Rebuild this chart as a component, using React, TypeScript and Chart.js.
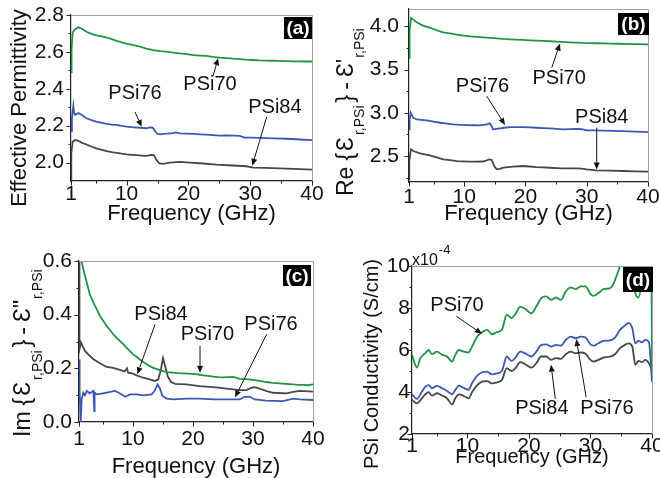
import React, { useEffect, useRef } from 'react';
import { Chart, registerables } from 'chart.js';

Chart.register(...registerables);

const FONT = "'Liberation Sans', Arial, Helvetica, sans-serif";
const GREEN = '#1f9647';
const BLUE = '#3a58b4';
const GRAY = '#474747';
const INK = '#111111';

// ---------- shared axis ticks ----------
const X_TICKS = [1, 10, 20, 30, 40];
const X_MINOR = [5, 15, 25, 35];
const X_TITLE = 'Frequency (GHz)';
const NAMES = ['PSi70', 'PSi76', 'PSi84'];

// ---------- panel (a): effective permittivity ----------
const A_Y_TICKS = [2.0, 2.2, 2.4, 2.6, 2.8];
const A_Y_MINOR = [2.1, 2.3, 2.5, 2.7];
const A70_F = [1, 1.1, 1.27, 1.65, 2.2, 2.7, 3.5, 4.3, 5.1, 6.0, 6.8, 7.6, 8.4, 9.2, 10, 11.1, 12.2, 13.2, 14.3, 15.4, 16.5, 17.5, 18.6, 19.7, 20.8, 21.9, 22.9, 24.0, 25.1, 26.2, 27.2, 28.3, 29.4, 30.5, 31.5, 32.6, 33.7, 34.8, 35.9, 37, 38, 39, 40];
const A70_V = [2.49, 2.62, 2.705, 2.723, 2.733, 2.727, 2.709, 2.698, 2.69, 2.684, 2.678, 2.669, 2.66, 2.652, 2.645, 2.637, 2.629, 2.618, 2.609, 2.604, 2.601, 2.596, 2.592, 2.588, 2.583, 2.58, 2.578, 2.573, 2.569, 2.566, 2.563, 2.561, 2.558, 2.556, 2.554, 2.553, 2.552, 2.551, 2.55, 2.549, 2.549, 2.548, 2.548];
const A76_F = [1, 1.15, 1.38, 1.5, 1.65, 2.2, 2.7, 3.5, 4.3, 5.1, 6.0, 6.8, 7.6, 8.4, 9.2, 10, 10.8, 11.6, 12.4, 13.2, 13.8, 14.2, 14.6, 15.0, 15.5, 15.9, 16.7, 17.5, 18.0, 18.6, 19.7, 20.8, 21.9, 22.9, 24.0, 25.1, 26.2, 27.2, 28.3, 29.1, 30.3, 31.5, 33.7, 35.9, 38, 40];
const A76_V = [2.17, 2.24, 2.308, 2.27, 2.259, 2.268, 2.259, 2.24, 2.23, 2.222, 2.215, 2.21, 2.206, 2.204, 2.199, 2.195, 2.192, 2.19, 2.188, 2.186, 2.191, 2.189, 2.171, 2.155, 2.153, 2.155, 2.157, 2.159, 2.163, 2.158, 2.157, 2.155, 2.153, 2.151, 2.149, 2.146, 2.147, 2.146, 2.145, 2.135, 2.135, 2.134, 2.131, 2.129, 2.125, 2.122];
const A84_F = [1, 1.05, 1.27, 1.65, 2.2, 2.7, 3.5, 4.3, 5.1, 6.0, 6.8, 7.6, 8.4, 9.2, 10, 10.8, 11.6, 12.4, 13.2, 14.0, 14.4, 14.8, 15.3, 15.9, 17, 18.6, 20.2, 22.4, 24.5, 27.2, 29.4, 30.5, 32.6, 35.9, 38, 40];
const A84_V = [1.9, 2.05, 2.113, 2.122, 2.118, 2.108, 2.098, 2.087, 2.077, 2.069, 2.062, 2.057, 2.053, 2.048, 2.044, 2.042, 2.04, 2.038, 2.036, 2.042, 2.041, 2.016, 1.995, 1.993, 2.0, 2.004, 2.0, 1.995, 1.989, 1.984, 1.98, 1.973, 1.971, 1.967, 1.964, 1.962];

// ---------- panel (b): real part ----------
const B_Y_TICKS = [2.5, 3.0, 3.5, 4.0];
const B_Y_MINOR = [2.25, 2.75, 3.25, 3.75];
const B70_F = [1, 1.1, 1.33, 1.7, 2.25, 3.3, 4.1, 5.0, 5.8, 6.6, 7.4, 8.2, 9.0, 9.9, 11, 12, 13.1, 14.2, 15.3, 16.4, 17.5, 18.5, 19.6, 20.7, 21.8, 22.9, 24, 25.1, 26.2, 27.2, 28.3, 29.4, 30.5, 31.6, 32.7, 33.8, 34.9, 35.9, 38, 40];
const B70_V = [3.635, 3.95, 4.096, 4.077, 4.046, 4.008, 3.99, 3.969, 3.948, 3.931, 3.92, 3.912, 3.902, 3.892, 3.884, 3.877, 3.871, 3.865, 3.86, 3.854, 3.85, 3.846, 3.842, 3.838, 3.835, 3.831, 3.827, 3.823, 3.819, 3.815, 3.812, 3.808, 3.806, 3.804, 3.802, 3.8, 3.798, 3.796, 3.794, 3.792];
const B76_F = [1, 1.1, 1.27, 1.7, 2.25, 3.0, 3.9, 5.0, 6.1, 7.2, 8.2, 9.3, 10.4, 11.5, 12.6, 13.7, 14.2, 14.5, 14.7, 15.0, 15.8, 16.6, 17.5, 18.5, 19.6, 20.7, 21.8, 22.9, 24, 25.1, 26.1, 27.2, 28.3, 29.2, 30, 31.4, 32.7, 34.3, 35.9, 38, 40];
const B76_V = [2.808, 2.92, 3.0, 2.942, 2.923, 2.918, 2.912, 2.898, 2.885, 2.874, 2.865, 2.861, 2.858, 2.856, 2.854, 2.865, 2.877, 2.846, 2.808, 2.812, 2.819, 2.827, 2.835, 2.834, 2.835, 2.831, 2.827, 2.823, 2.819, 2.814, 2.808, 2.811, 2.815, 2.81, 2.796, 2.796, 2.795, 2.791, 2.788, 2.782, 2.777];
const B84_F = [1, 1.05, 1.33, 1.7, 2.8, 3.6, 4.4, 5.5, 6.6, 7.7, 8.8, 9.8, 10.9, 12, 13.1, 14.1, 14.5, 14.9, 15.3, 15.8, 16.4, 17.2, 18, 19.6, 20.7, 21.8, 22.9, 24, 25, 26.1, 27.2, 28.3, 29.2, 30, 31.6, 33.8, 35.9, 38, 40];
const B84_V = [2.23, 2.45, 2.577, 2.558, 2.531, 2.52, 2.508, 2.485, 2.462, 2.452, 2.442, 2.438, 2.435, 2.436, 2.437, 2.462, 2.455, 2.385, 2.346, 2.352, 2.365, 2.372, 2.377, 2.385, 2.379, 2.373, 2.369, 2.365, 2.361, 2.358, 2.357, 2.358, 2.354, 2.346, 2.335, 2.331, 2.327, 2.323, 2.319];

// ---------- panel (c): imaginary part ----------
const C_Y_TICKS = [0.0, 0.2, 0.4, 0.6];
const C_Y_MINOR = [0.1, 0.3, 0.5];
const C70_F = [1, 1.2, 1.44, 1.72, 2.0, 2.3, 2.8, 3.4, 4.0, 4.5, 5.0, 5.6, 6.2, 6.7, 7.2, 7.8, 8.4, 8.9, 9.5, 10, 10.6, 11.1, 11.7, 12.3, 12.8, 13.4, 14, 14.5, 15.0, 15.6, 16.1, 16.7, 17.5, 18.4, 19.2, 20, 20.9, 21.7, 22.5, 23.4, 24.2, 25, 25.8, 26.7, 27.8, 28.9, 30, 31.1, 32.2, 33.3, 34.4, 35.5, 36.7, 37.5, 38.3, 39.2, 40];
const C70_V = [0.9, 0.72, 0.6, 0.569, 0.545, 0.519, 0.476, 0.445, 0.418, 0.395, 0.378, 0.358, 0.342, 0.327, 0.315, 0.302, 0.29, 0.277, 0.264, 0.252, 0.243, 0.234, 0.224, 0.215, 0.208, 0.202, 0.197, 0.193, 0.19, 0.186, 0.185, 0.184, 0.182, 0.181, 0.18, 0.179, 0.177, 0.174, 0.172, 0.169, 0.167, 0.166, 0.167, 0.168, 0.161, 0.16, 0.157, 0.153, 0.149, 0.146, 0.144, 0.142, 0.14, 0.138, 0.138, 0.137, 0.14];
const C76_F = [1, 1.1, 1.28, 1.44, 1.72, 2.0, 2.3, 2.8, 3.4, 3.55, 3.6, 3.9, 5.0, 6.2, 7.0, 7.8, 8.7, 9.5, 10.6, 11.7, 13.1, 13.6, 14.1, 14.5, 14.9, 15.6, 16.7, 18.9, 21.1, 23.4, 25.6, 27.8, 28.6, 29.5, 30.3, 32.2, 35.0, 36.7, 37.8, 40];
const C76_V = [0.234, 0.12, 0.0, 0.084, 0.109, 0.1, 0.116, 0.107, 0.116, 0.041, 0.11, 0.103, 0.107, 0.112, 0.116, 0.107, 0.094, 0.103, 0.103, 0.099, 0.103, 0.116, 0.14, 0.124, 0.097, 0.087, 0.084, 0.087, 0.087, 0.084, 0.084, 0.084, 0.094, 0.094, 0.084, 0.08, 0.078, 0.087, 0.084, 0.082];
const C84_F = [1, 1.05, 1.1, 1.33, 1.6, 2.0, 2.55, 3.4, 4.5, 5.6, 6.7, 7.8, 8.6, 9.0, 9.2, 10, 10.6, 11.7, 12.8, 13.6, 14.2, 14.6, 15.0, 15.4, 15.8, 16.3, 17, 18.9, 21.1, 23.4, 25.6, 27.8, 28.9, 29.6, 30.1, 30.7, 31.4, 32.3, 33.3, 35.6, 36.7, 37.8, 40];
const C84_V = [0.65, 0.4, 0.271, 0.296, 0.283, 0.265, 0.252, 0.234, 0.219, 0.205, 0.202, 0.194, 0.188, 0.2, 0.184, 0.18, 0.174, 0.165, 0.159, 0.153, 0.158, 0.19, 0.238, 0.205, 0.17, 0.15, 0.142, 0.14, 0.134, 0.13, 0.124, 0.119, 0.119, 0.126, 0.13, 0.127, 0.122, 0.115, 0.109, 0.107, 0.112, 0.116, 0.113];

// ---------- panel (d): conductivity (x1e-4 S/cm) ----------
const D_Y_TICKS = [2, 4, 6, 8, 10];
const D_Y_MINOR = [3, 5, 7, 9];
const D70_F = [1, 1.8, 2.35, 3.16, 3.7, 4.25, 5.06, 5.9, 6.7, 7.5, 8.04, 8.6, 9.4, 10.2, 10.75, 11.6, 12.4, 13.2, 14.0, 14.8, 15.6, 16.4, 17.2, 17.8, 18.6, 19.4, 20.4, 21.2, 22.0, 22.8, 23.6, 24.4, 25.2, 26.0, 26.8, 27.6, 28.4, 29.2, 30.0, 30.5, 31.3, 32.1, 33.2, 33.8, 34.3, 34.8, 35.4, 36.2, 36.8, 37.3, 37.8, 38.4, 38.9, 39.5, 39.9, 40];
const D70_V = [5.77, 5.16, 5.61, 5.85, 6.0, 5.8, 5.92, 5.77, 5.69, 5.45, 5.77, 6.0, 5.92, 5.88, 6.16, 6.64, 6.85, 6.96, 6.75, 6.85, 6.96, 7.68, 7.52, 7.71, 8.07, 7.96, 7.75, 8.07, 8.47, 8.55, 8.39, 8.5, 8.39, 8.79, 8.98, 8.9, 9.03, 9.03, 8.66, 8.58, 8.71, 8.9, 8.95, 9.19, 9.58, 9.98, 10.4, 10.6, 9.7, 8.7, 8.5, 9.3, 10.2, 10.3, 10.1, 5.0];
const D_F = [1, 1.8, 2.6, 3.16, 3.7, 4.25, 5.06, 5.9, 6.7, 7.5, 8.04, 8.6, 9.4, 10.2, 10.75, 11.6, 12.4, 13.2, 14.0, 14.8, 15.6, 16.4, 17.2, 17.8, 18.6, 19.4, 20.4, 21.2, 22.0, 22.8, 23.6, 24.4, 25.2, 26.0, 26.8, 27.6, 28.4, 29.2, 30.0, 30.5, 31.3, 32.1, 33.2, 34.0, 34.8, 35.4, 36.2, 36.8, 37.3, 37.8, 38.4, 38.9, 39.5, 40];
const D76_V = [3.89, 3.67, 4.01, 4.25, 4.33, 4.18, 4.29, 4.18, 4.05, 3.89, 4.1, 4.3, 4.2, 4.1, 4.42, 4.78, 4.94, 4.97, 4.84, 4.89, 5.0, 5.69, 5.48, 5.64, 5.92, 5.84, 5.69, 5.92, 6.24, 6.27, 6.16, 6.24, 6.21, 6.48, 6.64, 6.56, 6.64, 6.59, 6.27, 6.21, 6.32, 6.43, 6.46, 6.59, 6.96, 7.12, 7.28, 7.04, 6.32, 6.43, 6.37, 6.48, 6.37, 4.49];
const D84_V = [3.62, 3.46, 3.7, 3.89, 3.99, 3.83, 3.94, 3.83, 3.7, 3.41, 3.7, 3.89, 3.81, 3.7, 3.99, 4.33, 4.49, 4.52, 4.41, 4.46, 4.57, 5.13, 5.0, 5.13, 5.42, 5.32, 5.16, 5.37, 5.69, 5.69, 5.53, 5.61, 5.58, 5.8, 5.92, 5.84, 5.88, 5.82, 5.53, 5.45, 5.53, 5.64, 5.69, 5.8, 6.09, 6.21, 6.32, 6.16, 5.29, 5.48, 5.42, 5.53, 5.37, 5.05];

// ---------- annotations (data coordinates) ----------
type Note = { text: string; x: number; y: number };
type Arrow = { x1: number; y1: number; x2: number; y2: number };
const A_NOTES: Note[] = [
  { text: 'PSi70', x: 23.5, y: 2.421 },
  { text: 'PSi76', x: 11.36, y: 2.375 },
  { text: 'PSi84', x: 34.0, y: 2.299 },
];
const A_ARROWS: Arrow[] = [
  { x1: 24.0, y1: 2.47, x2: 24.8, y2: 2.566 },
  { x1: 11.36, y1: 2.274, x2: 12.44, y2: 2.194 },
  { x1: 32.67, y1: 2.248, x2: 30.34, y2: 1.983 },
];
const B_NOTES: Note[] = [
  { text: 'PSi70', x: 25.5, y: 3.391 },
  { text: 'PSi76', x: 13.0, y: 3.31 },
  { text: 'PSi84', x: 32.45, y: 2.943 },
];
const B_ARROWS: Arrow[] = [
  { x1: 24.29, y1: 3.52, x2: 25.64, y2: 3.8 },
  { x1: 13.68, y1: 3.193, x2: 16.67, y2: 2.86 },
  { x1: 31.63, y1: 2.828, x2: 31.63, y2: 2.345 },
];
const C_NOTES: Note[] = [
  { text: 'PSi84', x: 14.67, y: 0.3995 },
  { text: 'PSi70', x: 22.4, y: 0.325 },
  { text: 'PSi76', x: 33.0, y: 0.364 },
];
const C_ARROWS: Arrow[] = [
  { x1: 13.67, y1: 0.364, x2: 10.72, y2: 0.178 },
  { x1: 21.17, y1: 0.283, x2: 21.17, y2: 0.184 },
  { x1: 32.28, y1: 0.327, x2: 27.0, y2: 0.092 },
];
const D_NOTES: Note[] = [
  { text: 'PSi70', x: 8.31, y: 8.12 },
  { text: 'PSi84', x: 22.1, y: 3.227 },
  { text: 'PSi76', x: 32.69, y: 3.227 },
];
const D_ARROWS: Arrow[] = [
  { x1: 8.2, y1: 7.61, x2: 12.37, y2: 6.77 },
  { x1: 24.29, y1: 3.67, x2: 23.59, y2: 5.3 },
  { x1: 29.3, y1: 3.75, x2: 27.7, y2: 6.52 },
];

// ---------- layout / style ----------
// Rotated y-title pieces: flow upward from `start`, each piece after `gap` px.
type Piece = { text: string; size: number; sub?: boolean; gap: number };
type Title = { start: number; center?: boolean; base: number; subBase: number; pieces: Piece[] };
type Spec = {
  key: string;
  left: number; top: number; w: number; h: number;
  area: [number, number, number, number];
  yMin: number; yMax: number; yTicks: number[]; yMinor: number[]; dec: number;
  yPad: number; xPad: number; xTitleSize: number; xTitlePad: number;
  series: { label: string; f: number[]; v: number[]; color: string }[];
  notes: Note[]; arrows: Arrow[];
  tag: { text: string; x: number; y: number; w: number; h: number };
  yTitle: Title;
  extra?: { text: string; x: number; y: number; size: number }[];
  smooth?: boolean;
};

const EPS = '\u0190';
const reTitle = (lead: string, prime: string): Piece[] => [
  { text: lead, size: 23, gap: 0 },
  { text: '{', size: 23, gap: 6 },
  { text: EPS, size: 23, gap: 2 },
  { text: 'r,PSi', size: 14, sub: true, gap: 2 },
  { text: '}', size: 23, gap: 3 },
  { text: '-', size: 23, gap: 5 },
  { text: EPS + prime, size: 23, gap: 5 },
  { text: 'r,PSi', size: 14, sub: true, gap: 1 },
];

const PANELS: Spec[] = [
  {
    key: 'a', left: 0, top: 0, w: 330, h: 239, area: [71, 15, 312, 181],
    yMin: 1.9, yMax: 2.8, yTicks: A_Y_TICKS, yMinor: A_Y_MINOR, dec: 1,
    yPad: 7, xPad: 1, xTitleSize: 22, xTitlePad: 12,
    series: [
      { label: NAMES[0], f: A70_F, v: A70_V, color: GREEN },
      { label: NAMES[1], f: A76_F, v: A76_V, color: BLUE },
      { label: NAMES[2], f: A84_F, v: A84_V, color: GRAY },
    ],
    notes: A_NOTES, arrows: A_ARROWS,
    tag: { text: '(a)', x: 284, y: 17, w: 28, h: 22 },
    yTitle: { start: 108, center: true, base: 26, subBase: 26, pieces: [{ text: 'Effective Permittivity', size: 22, gap: 0 }] },
  },
  {
    key: 'b', left: 330, top: 0, w: 330, h: 239, area: [79, 9, 318, 182],
    yMin: 2.2, yMax: 4.2, yTicks: B_Y_TICKS, yMinor: B_Y_MINOR, dec: 1,
    yPad: 10, xPad: 3, xTitleSize: 22, xTitlePad: 12,
    series: [
      { label: NAMES[0], f: B70_F, v: B70_V, color: GREEN },
      { label: NAMES[1], f: B76_F, v: B76_V, color: BLUE },
      { label: NAMES[2], f: B84_F, v: B84_V, color: GRAY },
    ],
    notes: B_NOTES, arrows: B_ARROWS,
    tag: { text: '(b)', x: 288, y: 13, w: 31, h: 22 },
    yTitle: { start: 196, base: 23, subBase: 34, pieces: reTitle('Re', "'") },
  },
  {
    key: 'c', left: 0, top: 239, w: 330, h: 239, area: [79, 22, 313, 183],
    yMin: 0, yMax: 0.6, yTicks: C_Y_TICKS, yMinor: C_Y_MINOR, dec: 1,
    yPad: 7, xPad: 5, xTitleSize: 22, xTitlePad: -2,
    series: [
      { label: NAMES[0], f: C70_F, v: C70_V, color: GREEN },
      { label: NAMES[1], f: C76_F, v: C76_V, color: BLUE },
      { label: NAMES[2], f: C84_F, v: C84_V, color: GRAY },
    ],
    notes: C_NOTES, arrows: C_ARROWS,
    tag: { text: '(c)', x: 283, y: 26, w: 28, h: 21 },
    yTitle: { start: 198, base: 30, subBase: 42, pieces: reTitle('Im', '"') },
  },
  {
    key: 'd', left: 330, top: 239, w: 330, h: 239, area: [82, 27, 322, 195],
    yMin: 2, yMax: 10, yTicks: D_Y_TICKS, yMinor: D_Y_MINOR, dec: 0,
    yPad: 2, xPad: 0, xTitleSize: 20, xTitlePad: 9,
    series: [
      { label: NAMES[0], f: D70_F, v: D70_V, color: GREEN },
      { label: NAMES[1], f: D_F, v: D76_V, color: BLUE },
      { label: NAMES[2], f: D_F, v: D84_V, color: GRAY },
    ],
    notes: D_NOTES, arrows: D_ARROWS,
    tag: { text: '(d)', x: 293, y: 28, w: 30, h: 25 },
    yTitle: { start: 125, center: true, base: 48, subBase: 48, pieces: [{ text: 'PSi Conductivity (S/cm)', size: 20, gap: 0 }] },
    extra: [
      { text: 'x10', x: 82, y: 26, size: 16 },
      { text: '-4', x: 0, y: 15, size: 13 },
    ],
    smooth: true,
  },
];

function drawArrow(ctx: CanvasRenderingContext2D, x1: number, y1: number, x2: number, y2: number) {
  const ang = Math.atan2(y2 - y1, x2 - x1);
  const L = 7;
  const W = 3;
  const bx = x2 - L * Math.cos(ang);
  const by = y2 - L * Math.sin(ang);
  ctx.beginPath();
  ctx.moveTo(x1, y1);
  ctx.lineTo(bx, by);
  ctx.stroke();
  ctx.beginPath();
  ctx.moveTo(x2, y2);
  ctx.lineTo(bx + W * Math.sin(ang), by - W * Math.cos(ang));
  ctx.lineTo(bx - W * Math.sin(ang), by + W * Math.cos(ang));
  ctx.closePath();
  ctx.fill();
}

function decor(spec: Spec) {
  return {
    id: 'decor_' + spec.key,
    afterDraw(chart: any) {
      const ctx: CanvasRenderingContext2D = chart.ctx;
      const a = chart.chartArea;
      const xs = chart.scales.x;
      const ys = chart.scales.y;
      ctx.save();
      // light frame top / right
      ctx.strokeStyle = '#a0a0a0';
      ctx.lineWidth = 1;
      ctx.beginPath();
      ctx.moveTo(a.left, a.top + 0.5);
      ctx.lineTo(a.right + 0.5, a.top + 0.5);
      ctx.lineTo(a.right + 0.5, a.bottom);
      ctx.stroke();
      // tick marks
      ctx.strokeStyle = '#222';
      ctx.lineWidth = 1;
      const seg = (x1: number, y1: number, x2: number, y2: number) => {
        ctx.beginPath();
        ctx.moveTo(x1, y1);
        ctx.lineTo(x2, y2);
        ctx.stroke();
      };
      X_TICKS.forEach((v) => { const p = Math.round(xs.getPixelForValue(v)) + 0.5; seg(p, a.bottom, p, a.bottom + 4.5); });
      X_MINOR.forEach((v) => { const p = Math.round(xs.getPixelForValue(v)) + 0.5; seg(p, a.bottom, p, a.bottom + 2.5); });
      spec.yTicks.forEach((v) => { const p = Math.round(ys.getPixelForValue(v)) + 0.5; seg(a.left, p, a.left - 4.5, p); });
      spec.yMinor.forEach((v) => { const p = Math.round(ys.getPixelForValue(v)) + 0.5; seg(a.left, p, a.left - 2.5, p); });
      // annotation labels
      ctx.fillStyle = INK;
      ctx.font = `20px ${FONT}`;
      ctx.textAlign = 'center';
      ctx.textBaseline = 'middle';
      spec.notes.forEach((n) => ctx.fillText(n.text, xs.getPixelForValue(n.x), ys.getPixelForValue(n.y)));
      ctx.strokeStyle = INK;
      ctx.lineWidth = 1;
      spec.arrows.forEach((r) =>
        drawArrow(ctx, xs.getPixelForValue(r.x1), ys.getPixelForValue(r.y1), xs.getPixelForValue(r.x2), ys.getPixelForValue(r.y2))
      );
      // panel tag
      const t = spec.tag;
      ctx.fillStyle = '#000';
      ctx.fillRect(t.x, t.y, t.w, t.h);
      ctx.fillStyle = '#fff';
      ctx.font = `bold 19px ${FONT}`;
      ctx.fillText(t.text, t.x + t.w / 2, t.y + t.h / 2 + 1);
      // y-axis title (rotated, with subscripts)
      ctx.fillStyle = INK;
      ctx.textBaseline = 'alphabetic';
      ctx.textAlign = 'left';
      const ti = spec.yTitle;
      const widths = ti.pieces.map((p) => {
        ctx.font = `${p.size}px ${FONT}`;
        return ctx.measureText(p.text).width;
      });
      const total = ti.pieces.reduce((s, p, i) => s + p.gap + widths[i], 0);
      let cursor = ti.center ? ti.start + total / 2 : ti.start;
      ti.pieces.forEach((p, i) => {
        cursor -= p.gap;
        ctx.font = `${p.size}px ${FONT}`;
        ctx.save();
        ctx.translate(p.sub ? ti.subBase : ti.base, cursor);
        ctx.rotate(-Math.PI / 2);
        ctx.fillText(p.text, 0, 0);
        ctx.restore();
        cursor -= widths[i];
      });
      // extra texts (multiplier)
      if (spec.extra) {
        let cx = 0;
        spec.extra.forEach((s, i) => {
          ctx.font = `${s.size}px ${FONT}`;
          const x = i === 0 ? s.x : cx;
          ctx.fillText(s.text, x, s.y);
          cx = x + ctx.measureText(s.text).width + 1;
        });
      }
      ctx.restore();
    },
  };
}

function Panel({ spec }: { spec: Spec }) {
  const ref = useRef<HTMLCanvasElement | null>(null);
  useEffect(() => {
    const canvas = ref.current;
    if (!canvas) return;
    const [aL, aT, aR, aB] = spec.area;
    const chart = new Chart(canvas, {
      type: 'line',
      data: {
        datasets: spec.series.map((s) => ({
          label: s.label,
          data: s.f.map((x, i) => ({ x, y: s.v[i] })),
          borderColor: s.color,
          backgroundColor: s.color,
          borderWidth: 1.8,
          pointRadius: 0,
          fill: false,
          tension: spec.smooth ? 0.4 : 0,
          cubicInterpolationMode: spec.smooth ? 'monotone' : 'default',
        })),
      },
      options: {
        animation: false,
        responsive: true,
        maintainAspectRatio: false,
        devicePixelRatio: 1,
        layout: { padding: { left: 0, top: aT, right: spec.w - aR, bottom: 0 } },
        plugins: { legend: { display: false }, tooltip: { enabled: false } },
        events: [],
        scales: {
          x: {
            type: 'linear',
            min: 1,
            max: 40,
            afterBuildTicks: (s: any) => { s.ticks = X_TICKS.map((v) => ({ value: v })); },
            afterFit: (s: any) => { s.height = spec.h - aB; s.paddingLeft = 0; s.paddingRight = 0; },
            grid: { display: false, drawTicks: false },
            border: { display: true, color: '#222', width: 1.2 },
            ticks: {
              font: { family: FONT, size: 21 },
              color: INK,
              padding: spec.xPad,
              maxRotation: 0,
              autoSkip: false,
              callback: (v: any) => String(v),
            },
            title: {
              display: true,
              text: X_TITLE,
              font: { family: FONT, size: spec.xTitleSize },
              color: INK,
              padding: { top: 0, bottom: spec.xTitlePad },
            },
          },
          y: {
            type: 'linear',
            min: spec.yMin,
            max: spec.yMax,
            afterBuildTicks: (s: any) => { s.ticks = spec.yTicks.map((v) => ({ value: v })); },
            afterFit: (s: any) => { s.width = aL; s.paddingTop = 0; s.paddingBottom = 0; },
            grid: { display: false, drawTicks: false },
            border: { display: true, color: '#222', width: 1.2 },
            ticks: {
              font: { family: FONT, size: 21 },
              color: INK,
              padding: spec.yPad,
              autoSkip: false,
              callback: (v: any) => Number(v).toFixed(spec.dec),
            },
          },
        },
      },
      plugins: [decor(spec)],
    } as any);
    return () => chart.destroy();
  }, [spec]);
  return (
    <div style={{ position: 'absolute', left: spec.left, top: spec.top, width: spec.w, height: spec.h }}>
      <canvas ref={ref} />
    </div>
  );
}

export default function App() {
  return (
    <div style={{ position: 'absolute', left: 0, top: 0, width: 660, height: 478, background: '#fff', overflow: 'hidden' }}>
      {PANELS.map((p) => (
        <Panel key={p.key} spec={p} />
      ))}
    </div>
  );
}
